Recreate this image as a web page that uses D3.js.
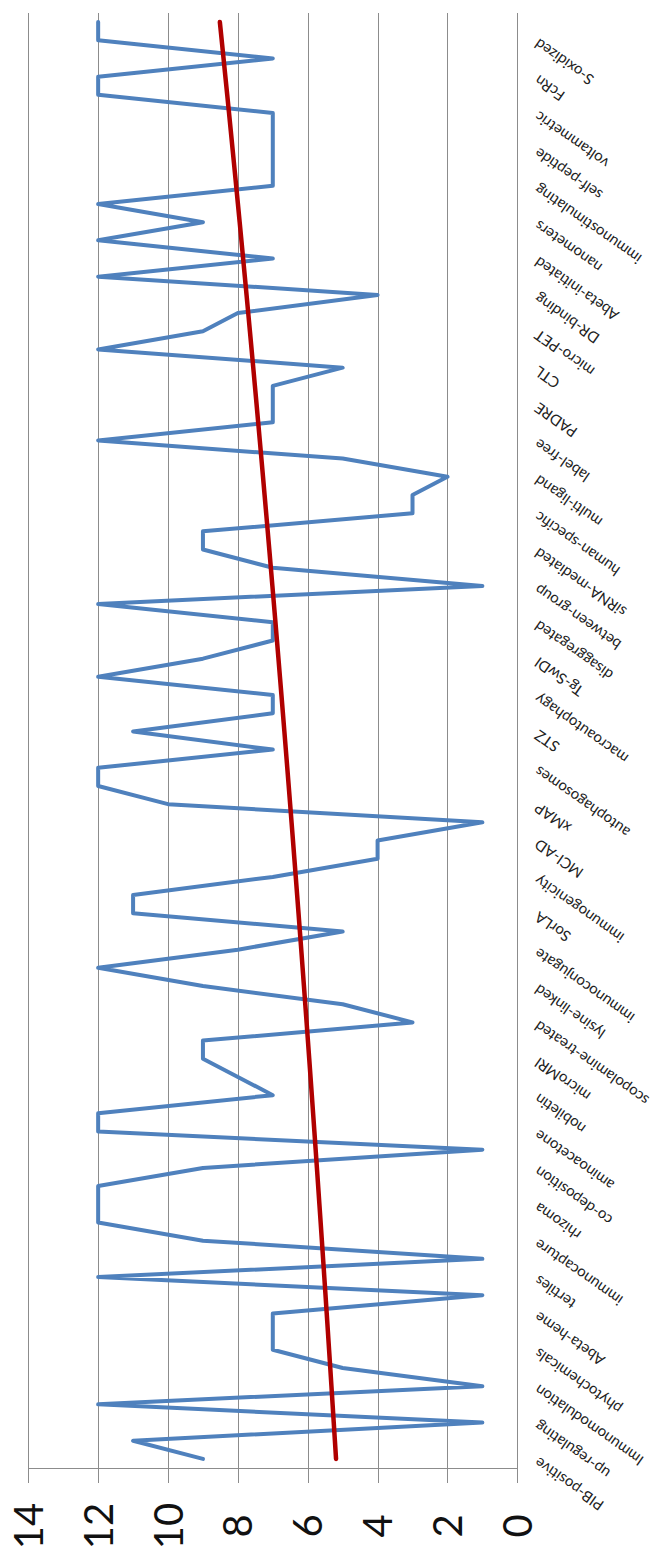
<!DOCTYPE html>
<html>
<head>
<meta charset="utf-8">
<style>
  body { margin: 0; background: #fff; }
  .grid line { stroke: #8c8c8c; stroke-width: 1; shape-rendering: crispEdges; }
  .grid path { display: none; }
  .vaxis path, .vaxis line { stroke: #8c8c8c; fill: none; shape-rendering: crispEdges; }
  .vaxis text { font-family: Lato, "Liberation Sans", sans-serif; font-size: 40px; fill: #111; }
  .cat text { font-family: Lato, "Liberation Sans", sans-serif; font-size: 15px; fill: #222; }
</style>
</head>
<body>
<script src="https://cdn.jsdelivr.net/npm/d3@7"></script>
<script>
// category labels (only every 2nd category carries a label), bottom -> top
var labels = ["PIB-positive", "up-regulating", "Immunomodulation", "phytochemicals", "Abeta-heme",
  "tertiles", "immunocapture", "rhizoma", "co-deposition", "aminoacetone",
  "nobiletin", "microMRI", "scopolamine-treated", "lysine-linked", "immunoconjugate",
  "SorLA", "immunogenicity", "MCI-AD", "xMAP", "autophagosomes",
  "STZ", "macroautophagy", "Tg-SwDI", "disaggregated", "between-group",
  "siRNA-mediated", "human-specific", "multi-ligand", "label-free", "PADRE",
  "CTL", "micro-PET", "DR-binding", "Abeta-initiated", "nanometers",
  "immunostimulating", "self-peptide", "voltammetric", "FcRn", "S-oxidized"];

// series values, one per category, bottom -> top
var values = [9, 11, 1, 12, 1, 5, 7, 7, 7, 1,
  12, 1, 9, 12, 12, 12, 9, 1, 12, 12,
  7, 8, 9, 9, 3, 5, 9, 12, 8, 5,
  11, 11, 7, 4, 4, 1, 10, 12, 12, 7,
  11, 7, 7, 12, 9, 7, 7, 12, 1, 7,
  9, 9, 3, 3, 2, 5, 12, 7, 7, 7,
  5, 12, 9, 8, 4, 12, 7, 12, 9, 12,
  7, 7, 7, 7, 7, 12, 12, 7, 12, 12];

var valueTicks = [0, 2, 4, 6, 8, 10, 12, 14];

var W = 657, H = 1557;
var plot = { left: 28.3, right: 517.3, top: 13, bottom: 1468 };

var svg = d3.select("body").append("svg")
    .attr("width", W)
    .attr("height", H);

// value axis runs right (0) -> left (14)
var x = d3.scaleLinear()
    .domain([0, 14])
    .range([plot.right, plot.left]);

// categories run bottom -> top
var y = d3.scaleBand()
    .domain(d3.range(values.length))
    .range([plot.bottom, plot.top]);

function cy(i) { return y(i) + y.bandwidth() / 2; }

// gridlines
svg.append("g")
    .attr("class", "grid")
    .attr("transform", "translate(0," + plot.top + ")")
    .call(d3.axisTop(x).tickValues(valueTicks.filter(function(d) { return d > 0; }))
      .tickSize(-(plot.bottom - plot.top)).tickFormat(""));

// value axis with outside ticks
var vaxis = svg.append("g")
    .attr("class", "vaxis")
    .attr("transform", "translate(0," + plot.bottom + ")")
    .call(d3.axisBottom(x).tickValues(valueTicks).tickSize(15).tickSizeOuter(0).tickFormat(d3.format("d")));

vaxis.selectAll("text")
    .attr("transform", "translate(0,58) rotate(-90)")
    .attr("x", 0)
    .attr("y", 0)
    .attr("dy", "0.35em")
    .style("text-anchor", "middle");

// category axis line at value 0
svg.append("line")
    .attr("x1", x(0)).attr("x2", x(0))
    .attr("y1", plot.top).attr("y2", plot.bottom)
    .attr("stroke", "#8c8c8c")
    .attr("shape-rendering", "crispEdges");

// category labels
svg.append("g")
    .attr("class", "cat")
    .selectAll("text")
    .data(labels)
    .enter()
    .append("text")
    .attr("transform", function(d, k) {
      return "translate(" + (x(0) + 19) + "," + (cy(k * 2) + 2) + ") rotate(-145)";
    })
    .attr("dy", "0.35em")
    .style("text-anchor", "end")
    .text(function(d) { return d; });

// data line
var line = d3.line()
    .x(function(d) { return x(d); })
    .y(function(d, i) { return cy(i); });

svg.append("path")
    .datum(values)
    .attr("fill", "none")
    .attr("stroke", "#4F81BD")
    .attr("stroke-width", 4)
    .attr("stroke-linejoin", "round")
    .attr("stroke-linecap", "round")
    .attr("d", line);

// exponential trendline, least squares on ln(y)
var n = values.length;
var xs = d3.range(1, n + 1);
var ls = values.map(function(v) { return Math.log(v); });
var mx = d3.mean(xs), ml = d3.mean(ls);
var sxy = d3.sum(xs, function(v, i) { return (v - mx) * (ls[i] - ml); });
var sxx = d3.sum(xs, function(v) { return (v - mx) * (v - mx); });
var b = sxy / sxx;
var a = Math.exp(ml - b * mx);
var trend = xs.map(function(t) { return a * Math.exp(b * t); });

svg.append("path")
    .datum(trend)
    .attr("fill", "none")
    .attr("stroke", "#B00000")
    .attr("stroke-width", 4.5)
    .attr("stroke-linecap", "round")
    .attr("d", line);
</script>
</body>
</html>
